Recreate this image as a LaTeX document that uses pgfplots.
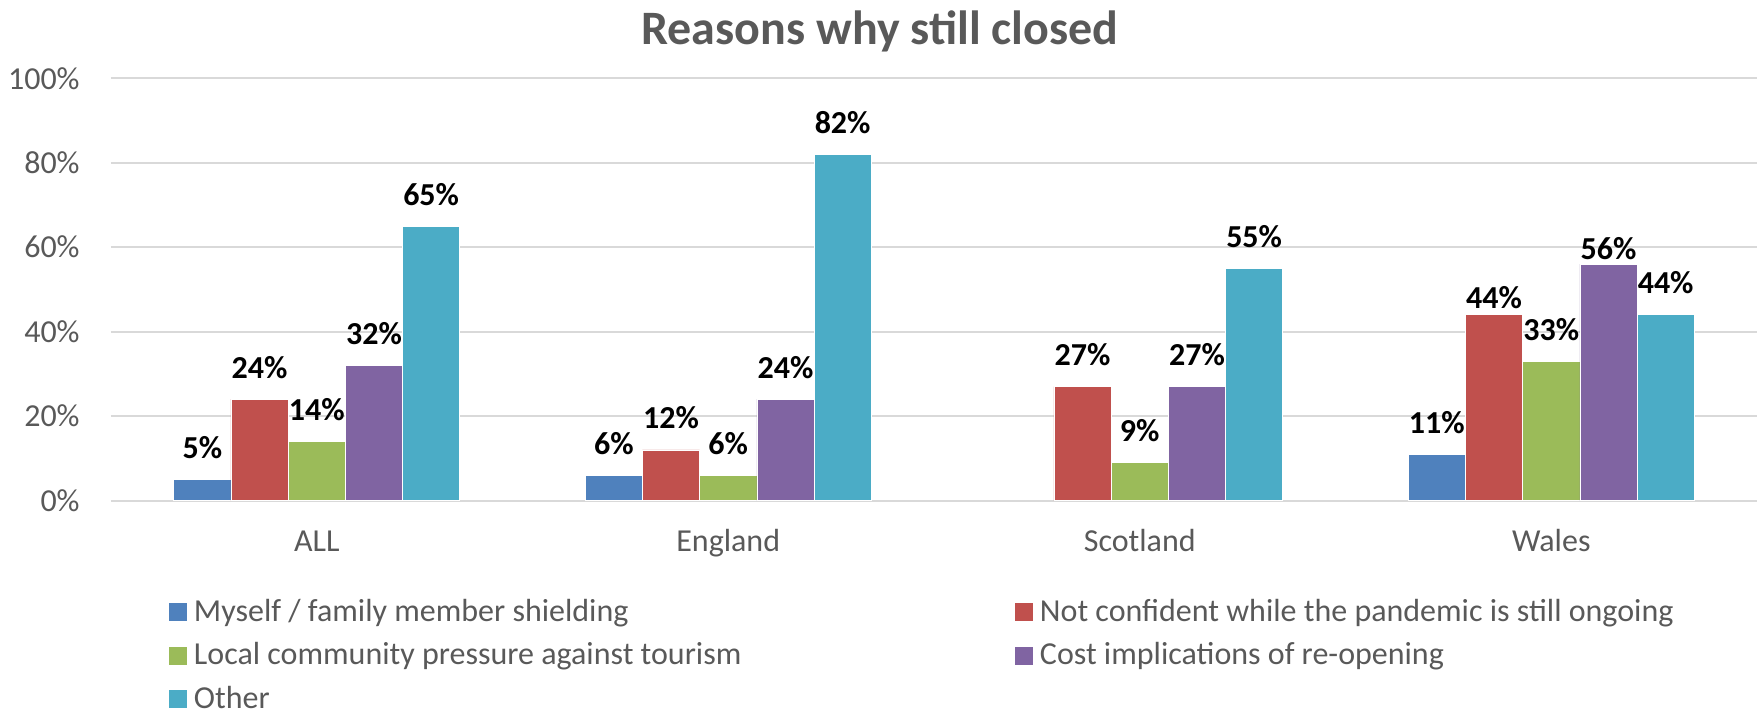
\documentclass[border=0pt]{standalone}
\usepackage{pgfplots}
\usepackage{pgfplotstable}
\pgfplotsset{compat=1.18}
\usepackage{fontspec}
\setmainfont{Carlito}
\definecolor{sBlue}{HTML}{4F81BD}
\definecolor{sRed}{HTML}{C0504D}
\definecolor{sGreen}{HTML}{9BBB59}
\definecolor{sPurple}{HTML}{8064A2}
\definecolor{sAqua}{HTML}{4BACC6}
\definecolor{txtc}{HTML}{595959}
\definecolor{gridc}{HTML}{D9D9D9}

\pgfplotstableread{
x y dy
0 5 10.5
1 6 10.5
3 11 10.5
}\tblBlue
\pgfplotstableread{
x y dy
0 24 10.5
1 12 10.5
2 27 10.5
3 44 3.3
}\tblRed
\pgfplotstableread{
x y dy
0 14 10.5
1 6 10.5
2 9 10.5
3 33 10.5
}\tblGreen
\pgfplotstableread{
x y dy
0 32 10.5
1 24 10.5
2 27 10.5
3 56 2.5
}\tblPurple
\pgfplotstableread{
x y dy
0 65 10.5
1 82 10.5
2 55 10.5
3 44 10.5
}\tblAqua

\pgfplotsset{myleg/.style={legend image code/.code={\fill[##1,draw=none] (0pt,-4.5pt) rectangle (9pt,4.5pt);}}}

\begin{document}
\begin{tikzpicture}
\path[use as bounding box] (0,0) rectangle (881.5pt,357pt);
\begin{axis}[
  at={(55.5pt,106.75pt)}, anchor=south west,
  scale only axis, width=823pt, height=211.1pt,
  xmin=-0.5, xmax=3.5, ymin=0, ymax=100,
  ybar=0pt, bar width=28.6pt,
  xtick={0,1,2,3}, xticklabels={ALL,England,Scotland,Wales},
  ytick={0,20,40,60,80,100},
  yticklabel={\pgfmathprintnumber{\tick}\%},
  /pgf/number format/assume math mode=true,
  axis line style={draw=none},
  major tick length=0pt,
  ymajorgrids, grid style={gridc, line width=1pt},
  tick label style={font=\fontsize{16}{19}\selectfont, text=txtc},
  xticklabel style={anchor=base, yshift=-25.6pt},
  yticklabel style={anchor=east, inner sep=0pt, xshift=-15.5pt},
  visualization depends on={\thisrow{dy} \as \dy},
  nodes near coords={\raisebox{\dy pt}{\pgfmathprintnumber{\pgfplotspointmeta}\%}},
  nodes near coords style={font=\bfseries\fontsize{16}{19}\selectfont, text=black, anchor=base, inner sep=0pt},
  legend cell align=left,
  legend style={at={(0.03524,-0.2435)}, anchor=north west, draw=none, fill=none,
    inner sep=0pt, outer sep=0pt, legend columns=2,
    font=\fontsize{16}{19}\selectfont, text=txtc, row sep=12.7pt,
    /tikz/every odd column/.append style={column sep=3.5pt},
    nodes={inner sep=0pt, text height=9pt, text depth=0pt}},
  every axis plot/.append style={draw=white, line width=0.3pt},
]
\addplot[fill=sBlue, myleg] table[x=x,y=y] {\tblBlue};
\addlegendentry{\makebox[410.5pt][l]{Myself / family member shielding}}
\addplot[fill=sRed, myleg] table[x=x,y=y] {\tblRed};
\addlegendentry{Not confident while the pandemic is still ongoing}
\addplot[fill=sGreen, myleg] table[x=x,y=y] {\tblGreen};
\addlegendentry{\makebox[410.5pt][l]{Local community pressure against tourism}}
\addplot[fill=sPurple, myleg] table[x=x,y=y] {\tblPurple};
\addlegendentry{Cost implications of re-opening}
\addplot[fill=sAqua, myleg] table[x=x,y=y] {\tblAqua};
\addlegendentry{\makebox[410.5pt][l]{Other}}
\end{axis}
\node[font=\bfseries\fontsize{24}{28}\selectfont, text=txtc, anchor=base] at (440pt,334.7pt) {Reasons why still closed};
\end{tikzpicture}
\end{document}
